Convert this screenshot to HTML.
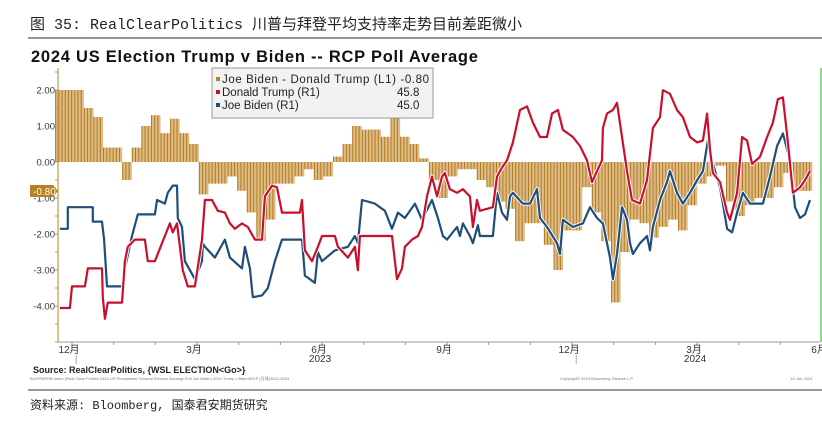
<!DOCTYPE html>
<html><head><meta charset="utf-8"><style>
body{margin:0;width:822px;height:427px;background:#fff;overflow:hidden;font-family:"Liberation Sans","Noto Sans CJK SC",sans-serif}
svg{position:absolute;left:0;top:0}
</style></head><body>
<svg width="822" height="427">
<text x="30" y="29" font-family="'Liberation Mono','Noto Sans CJK SC',monospace" font-size="15" fill="#222">图 35: RealClearPolitics 川普与拜登平均支持率走势目前差距微小</text>
<line x1="28" y1="38" x2="822" y2="38" stroke="#555" stroke-width="1.2"/>
<text x="31" y="62" font-size="16.5" font-weight="bold" letter-spacing="0.75" fill="#111">2024 US Election Trump v Biden -- RCP Poll Average</text>
<g id="plot"></g>
<line x1="821" y1="68" x2="821" y2="342" stroke="#6c6" stroke-width="1.5"/>
<g>
<rect x="212" y="68" width="221" height="50" fill="#f2f2f2" stroke="#999"/>
<g font-size="11.5" fill="#222">
<rect x="216" y="77" width="4" height="4" fill="#b8811f"/>
<text x="222" y="83" textLength="207">Joe Biden - Donald Trump (L1) -0.80</text>
<rect x="216" y="90" width="4" height="4" fill="#c8102e"/>
<text x="222" y="96">Donald Trump (R1)</text>
<text x="397" y="96">45.8</text>
<rect x="216" y="103" width="4" height="4" fill="#1f4e79"/>
<text x="222" y="109">Joe Biden (R1)</text>
<text x="397" y="109">45.0</text>
</g></g>
<g>
<path d="M30,185 H53 L58,191 L53,197 H30 Z" fill="#b8811f"/>
<text x="33" y="195" font-size="10" fill="#fff">-0.80</text>
</g>
<text x="33" y="373" font-size="9" font-weight="bold" fill="#222">Source: RealClearPolitics, {WSL ELECTION&lt;Go&gt;}</text>
<text x="30" y="380" font-size="4" fill="#777">BCRPMPRB Index (Real Clear Politics 2024 US Presidential General Election Average Poll Joe Biden) 2024 Trump v Biden/RCP (日线)2022-2024</text>
<text x="560" y="380" font-size="4" fill="#777">Copyright© 2024 Bloomberg Finance L.P.</text>
<text x="790" y="380" font-size="4" fill="#777">19-Jun-2024</text>
<line x1="28" y1="390" x2="822" y2="390" stroke="#333" stroke-width="1"/>
<text x="30" y="409" font-family="'Liberation Mono','Noto Sans CJK SC',monospace" font-size="12" fill="#222">资料来源: Bloomberg, 国泰君安期货研究</text>
</svg>
<script>
// months since 2022-12-01
const spreadStart = -0.29, spreadStep = 0.23;
const spread = [2.0,2.0,2.0,1.5,1.25,0.4,0.4,-0.5,0.4,1.0,1.3,0.8,1.2,0.8,0.5,-0.9,-0.6,-0.6,-0.4,-0.8,-1.4,-2.2,-1.6,-0.6,-0.6,-0.4,-0.2,-0.5,-0.4,0.15,0.5,1.0,0.9,0.9,0.7,1.3,0.7,0.5,0.1,-0.5,-1.0,-0.4,-0.2,-0.2,-0.5,-0.7,-1.1,-1.3,-2.2,-1.7,-1.7,-2.3,-3.0,-1.9,-1.9,-0.7,-1.4,-2.2,-3.9,-2.5,-1.6,-1.7,-2.1,-1.8,-1.6,-1.9,-1.2,-0.6,-0.4,-0.1,-1.1,-1.5,-1.2,-1.0,-1.0,-0.7,-0.3,-0.8,-0.8];
const bidenT = [-0.29,-0.1,-0.1,0.5,0.5,0.72,0.77,0.84,1.2,1.27,1.44,1.58,1.99,2.04,2.23,2.3,2.42,2.52,2.54,2.64,2.71,2.95,3.12,3.14,3.19,3.43,3.67,3.79,4.08,4.15,4.27,4.34,4.56,4.7,4.87,5.04,5.52,5.59,5.83,5.9,6.0,6.31,6.62,6.79,6.86,6.96,7.27,7.51,7.68,7.82,7.99,8.23,8.4,8.64,8.78,8.9,9.0,9.24,9.31,9.38,9.55,9.62,9.74,9.79,10.1,10.2,10.32,10.44,10.51,10.58,10.82,10.99,11.16,11.23,11.4,11.64,11.71,11.78,12.02,12.26,12.43,12.6,12.74,12.91,12.98,13.08,13.2,13.32,13.39,13.46,13.63,13.8,13.87,13.94,14.11,14.28,14.35,14.52,14.66,14.83,15.0,15.14,15.26,15.38,15.55,15.62,15.72,15.84,15.96,16.1,16.27,16.58,16.75,16.92,17.06,17.23,17.35,17.47,17.59,17.71];
const bidenV = [44.2,44.2,44.8,44.8,44.4,44.4,43.9,42.6,42.6,43.1,44.0,44.6,44.6,45.0,44.9,45.2,45.4,45.4,44.5,44.25,43.3,42.8,43.3,43.8,43.7,43.4,43.9,43.4,43.1,43.7,43.1,42.3,42.35,42.55,43.3,43.9,43.9,42.9,42.7,43.55,43.3,43.6,43.7,44.0,43.8,45.0,44.9,44.7,44.2,44.65,44.5,44.9,44.45,45.0,44.5,44.0,43.9,44.25,44.0,44.35,44.0,43.8,44.3,44.0,44.0,45.2,44.65,44.45,45.1,45.2,44.9,44.9,45.3,44.5,44.25,43.8,43.5,44.45,44.25,44.35,44.8,44.5,44.35,43.4,42.8,43.5,44.8,44.45,43.8,43.5,43.8,44.0,43.6,44.25,45.0,45.5,45.8,45.2,44.9,45.2,45.55,45.8,46.65,46.0,45.35,44.9,44.2,44.1,44.65,45.2,44.9,44.9,45.65,46.5,46.85,46.1,44.8,44.5,44.6,45.0];
const trumpT = [-0.29,-0.05,0,0.31,0.38,0.72,0.74,0.79,0.86,1.2,1.27,1.34,1.51,1.75,1.82,1.99,2.16,2.35,2.42,2.52,2.59,2.66,2.78,2.95,3.12,3.19,3.36,3.5,3.67,3.79,3.91,4.08,4.22,4.39,4.56,4.63,4.8,4.92,5.04,5.47,5.52,5.59,5.76,5.9,6.0,6.31,6.38,6.62,6.79,6.86,6.91,7.27,7.68,7.8,7.92,7.99,8.16,8.3,8.4,8.52,8.64,8.76,8.88,8.95,9.07,9.24,9.38,9.55,9.62,9.72,9.79,10.1,10.2,10.32,10.44,10.58,10.75,10.92,11.06,11.23,11.4,11.52,11.66,11.78,12.02,12.19,12.36,12.48,12.6,12.72,12.74,12.84,12.98,13.08,13.2,13.32,13.44,13.63,13.8,13.94,14.11,14.18,14.35,14.52,14.66,14.83,15.0,15.14,15.24,15.31,15.38,15.55,15.72,15.79,15.96,16.08,16.2,16.32,16.51,16.68,16.82,16.94,17.06,17.18,17.3,17.47,17.59,17.71];
const trumpV = [42.0,42.0,42.6,42.6,43.1,43.1,42.3,41.7,42.15,42.15,43.3,43.7,43.9,43.9,43.3,43.3,43.8,44.35,44.1,44.35,43.7,43.05,42.6,42.6,43.9,45.0,45.0,44.7,44.65,44.35,44.2,44.35,44.25,43.9,43.9,45.1,45.4,45.35,44.65,44.65,45.0,43.6,43.3,43.7,44.0,44.0,43.7,43.4,43.7,43.05,44.0,44.0,44.0,42.8,43.1,43.7,43.9,44.0,44.25,45.1,45.65,45.1,45.65,45.75,45.3,45.2,45.3,45.1,44.25,45.0,44.7,44.8,45.65,45.9,46.1,46.6,47.5,47.6,47.15,46.75,46.75,47.4,47.5,46.95,46.75,46.5,46.1,45.5,45.8,46.1,47.0,47.4,47.5,47.7,46.75,45.8,45.0,44.9,45.55,47.0,47.3,48.05,47.95,47.5,47.3,46.75,46.6,46.65,47.4,46.4,45.75,45.5,44.65,44.45,45.2,46.75,46.65,46.0,46.2,46.75,47.15,47.8,47.85,46.6,45.2,45.35,45.55,45.8];
const leftTicks = ["2.00","1.00","0.00","-1.00","-2.00","-3.00","-4.00"];
const leftTickVals = [2,1,0,-1,-2,-3,-4];
const monthLabels = ["12月","3月","6月","9月","12月","3月","6月"];
const monthLabelPos = [0,3,6,9,12,15,18];
const yearLabels = ["2023","2024"];
const yearLabelPos = [6,15];
const yearSepPos = [0.1,12.1];

const NS="http://www.w3.org/2000/svg";
const g=document.getElementById('plot');
const X0=58,X1=820,Y0=68,Y1=342;
const xs=m=>72+m*41.67;
const yL=v=>162-v*36;
const yR=v=>200-(v-45)*36;
function mk(tag,attrs,parent){const e=document.createElementNS(NS,tag);for(const k in attrs)e.setAttribute(k,attrs[k]);(parent||g).appendChild(e);return e;}

const bw=spreadStep*41.67;
spread.forEach((v,i)=>{
  const x=xs(spreadStart+i*spreadStep);
  const y=Math.min(yL(0),yL(v)),h=Math.abs(yL(v)-yL(0));
  const r=mk('rect',{x:x-bw/2,y:y,width:bw,height:h,fill:'#dcbb88'});
  
  
  for(let j=0;j<3;j++){
    const l=mk('rect',{x:x-bw/2+j*bw/3,y:y,width:1,height:h,fill:'#b57a1a'});
    
    
  }
});
function line(T,V,color,name){
  const d=T.map((t,i)=>(i?'L':'M')+xs(t).toFixed(1)+','+yR(V[i]).toFixed(1)).join('');
  mk('path',{d:d,fill:'none',stroke:'#fff',"stroke-width":4,"stroke-linejoin":'round'});
  const p=mk('path',{d:d,fill:'none',stroke:color,"stroke-width":2.2,"stroke-linejoin":'round'});
  
  
}
line(bidenT,bidenV,'#1f4e79','biden-line');
line(trumpT,trumpV,'#c8102e','trump-line');

const ax=mk('line',{x1:X0,y1:Y0,x2:X0,y2:Y1,stroke:'#c89a4a','stroke-width':1.2});


const xa=mk('line',{x1:X0,y1:Y1,x2:X1,y2:Y1,stroke:'#999','stroke-width':1});


for(let v=-5;v<=2.5;v+=0.5){mk('line',{x1:X0-3,y1:yL(v),x2:X0,y2:yL(v),stroke:'#c89a4a'});}
leftTicks.forEach((t,i)=>{
  const e=mk('text',{x:X0-3,y:yL(leftTickVals[i])+3.5,'font-size':9.5,'text-anchor':'end',fill:'#333'});
  e.textContent=t;
  
  
});
for(let m=-1;m<=18;m++){const x=xs(m);if(x>X0&&x<X1)mk('line',{x1:x,y1:Y1,x2:x,y2:Y1+3,stroke:'#999'});}
monthLabels.forEach((t,i)=>{
  const e=mk('text',{x:xs(monthLabelPos[i])-3,y:353,'font-size':10,'text-anchor':'middle',fill:'#333'});
  e.textContent=t;
  
  
});
yearLabels.forEach((t,i)=>{
  const e=mk('text',{x:xs(yearLabelPos[i])-2,y:362,'font-size':10,'text-anchor':'middle',fill:'#333'});
  e.textContent=t;
  
  
});
yearSepPos.forEach(m=>{mk('line',{x1:xs(m),y1:355,x2:xs(m),y2:364,stroke:'#aaa'});});
</script>
</body></html>
